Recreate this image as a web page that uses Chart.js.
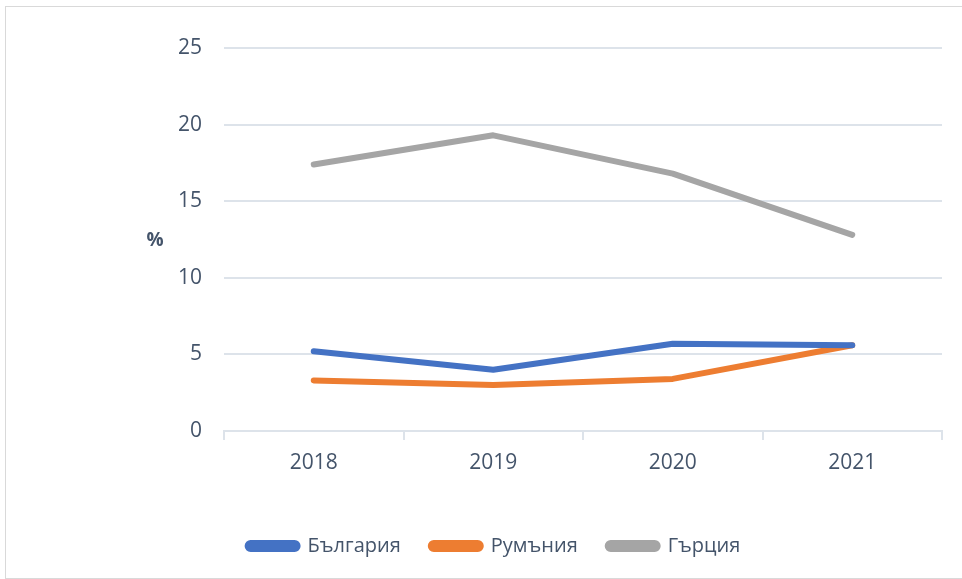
<!DOCTYPE html>
<html>
<head>
<meta charset="utf-8">
<script src="https://cdn.jsdelivr.net/npm/chart.js@4/dist/chart.umd.min.js"></script>
<style>
  html, body { margin: 0; padding: 0; background: #fff; overflow: hidden; }
  #box { position: absolute; left: 5px; top: 6px; width: 960px; height: 571px; border: 1px solid #d9d9d9; }
  #box canvas { display: block; }
</style>
</head>
<body>
<div id="box"><canvas id="chart" width="960" height="571"></canvas></div>
<script>
const years = ['2018', '2019', '2020', '2021'];
const bulgaria = [5.2, 4.0, 5.7, 5.6];
const romania = [3.3, 3.0, 3.4, 5.6];
const greece = [17.4, 19.3, 16.8, 12.8];
const yTicks = [0, 5, 10, 15, 20, 25];

const FONT = "'Open Sans', sans-serif";
const TEXT = '#44546a';
const GRID = '#dde3ea';

// "%" is drawn upright, not rotated like a normal axis title
const percentLabel = {
    id: 'percentLabel',
    afterDraw(chart) {
        const { ctx, chartArea } = chart;
        ctx.save();
        ctx.font = 'bold 19px ' + FONT;
        ctx.fillStyle = TEXT;
        ctx.textAlign = 'center';
        ctx.textBaseline = 'middle';
        ctx.fillText('%', 149, (chartArea.top + chartArea.bottom) / 2 + 1);
        ctx.restore();
    }
};

const mk = (label, data, color) => ({
    label, data, borderColor: color, backgroundColor: color,
    borderWidth: 6, pointRadius: 0, tension: 0, borderCapStyle: 'round', borderJoinStyle: 'round'
});

new Chart(document.getElementById('chart'), {
    type: 'line',
    data: {
        labels: years,
        datasets: [
            mk('България', bulgaria, '#4472c4'),
            mk('Румъния', romania, '#ed7d31'),
            mk('Гърция', greece, '#a5a5a5'),
        ],
    },
    options: {
        responsive: false, animation: false,
        layout: { padding: { top: 41, right: 24, left: 40, bottom: 12 } },
        plugins: {
            tooltip: { enabled: false },
            legend: {
                position: 'bottom',
                labels: {
                    font: { family: FONT, size: 20 }, color: TEXT,
                    boxWidth: 50, boxHeight: 6, useBorderRadius: true, borderRadius: 3,
                    padding: 30,
                },
            },
        },
        scales: {
            x: {
                offset: true,
                afterFit(s) { s.height = 75; },
                grid: { offset: true, drawOnChartArea: false, drawTicks: true, tickLength: 9, color: GRID, lineWidth: 2 },
                border: { color: GRID, width: 2 },
                ticks: { font: { family: FONT, size: 21 }, color: TEXT, padding: 10 },
            },
            y: {
                min: 0, max: 25,
                afterFit(s) { s.width = 178; },
                afterBuildTicks(s) { s.ticks = yTicks.map(v => ({ value: v })); },
                grid: { drawTicks: false, color: GRID, lineWidth: 2 },
                border: { display: false },
                ticks: { font: { family: FONT, size: 21 }, color: TEXT, padding: 22 },
            },
        },
    },
    plugins: [percentLabel],
});
</script>
</body>
</html>
